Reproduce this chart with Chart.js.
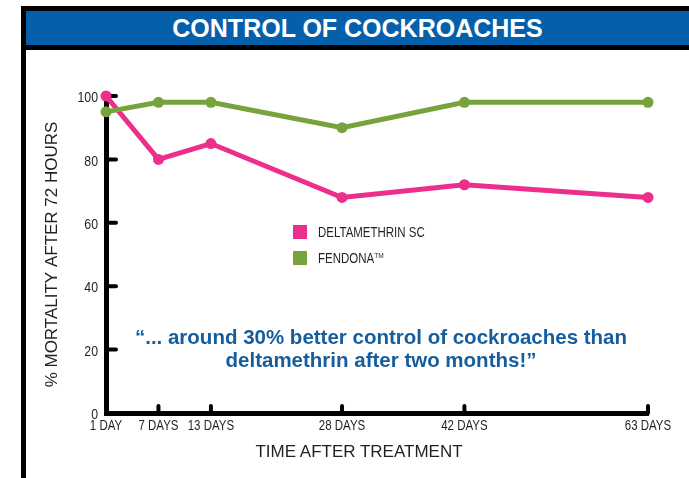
<!DOCTYPE html>
<html>
<head>
<meta charset="utf-8">
<script src="https://cdn.jsdelivr.net/npm/chart.js@4/dist/chart.umd.min.js"></script>
<style>
html, body { margin: 0; padding: 0; background: #fff; }
body { width: 689px; height: 478px; position: relative; overflow: hidden; font-family: "Liberation Sans", Arial, sans-serif; color: #231f20; }
#frame { position: absolute; left: 21px; top: 6px; right: -10px; bottom: -10px; border-left: 5px solid #000; border-top: 5px solid #000; }
#header { position: absolute; left: 26px; top: 11px; right: 0; height: 34px; background: #0560ac; border-bottom: 5px solid #000; color: #fff; font-weight: bold; font-size: 25px; line-height: 34px; text-align: center; }
#chart { position: absolute; left: 0; top: 0; }
.legend-item { position: absolute; left: 293px; height: 14px; white-space: nowrap; }
.legend-item span { position: absolute; left: 0; top: 0; width: 14px; height: 14px; }
.legend-item b { position: absolute; left: 25px; top: -1px; font-weight: normal; font-size: 14px; line-height: 16px; transform: scaleX(0.82); transform-origin: left center; }
.legend-item sup { font-size: 8px; vertical-align: 5px; line-height: 0; }
#note { position: absolute; left: 81px; width: 600px; top: 325px; text-align: center; color: #165d9e; font-weight: bold; font-size: 20.5px; line-height: 23px; }
#xtitle { position: absolute; left: 209px; width: 300px; top: 442px; text-align: center; font-size: 17px; line-height: 20px; }
</style>
</head>
<body>
<div id="frame"></div>
<div id="header">CONTROL OF COCKROACHES</div>
<canvas id="chart" width="689" height="478"></canvas>
<div id="legend"></div>
<div id="note">“... around 30% better control of cockroaches than<br>deltamethrin after two months!”</div>
<div id="xtitle">TIME AFTER TREATMENT</div>
<script>
// Data
const days = [1, 7, 13, 28, 42, 63];
const dayLabels = ['1 DAY', '7 DAYS', '13 DAYS', '28 DAYS', '42 DAYS', '63 DAYS'];
const deltamethrin = [100, 80, 85, 68, 72, 68];
const fendona = [95, 98, 98, 90, 98, 98];
const yTicks = [0, 20, 40, 60, 80, 100];
const seriesNames = ['DELTAMETHRIN SC', 'FENDONA™'];
const seriesColors = ['#ec2e8c', '#78a23c'];

// condensed text: the narrow font isn't installed, so squeeze Liberation Sans
function narrowText(ctx, text, x, y, size, align, baseline) {
    ctx.save();
    ctx.translate(x, y);
    ctx.scale(0.82, 1);
    ctx.font = size + 'px "Liberation Sans", Arial, sans-serif';
    ctx.fillStyle = '#231f20';
    ctx.textAlign = align;
    ctx.textBaseline = baseline;
    ctx.fillText(text, 0, 0);
    ctx.restore();
}

// inward tick marks and tick labels on both axes
const axisMarks = {
    id: 'axisMarks',
    beforeDatasetsDraw(chart) {
        const { ctx, scales: { x, y } } = chart;
        ctx.save();
        ctx.strokeStyle = '#000';
        ctx.lineWidth = 4;
        ctx.lineCap = 'round';
        yTicks.forEach(v => {
            if (v === 0) return;
            const py = y.getPixelForValue(v);
            ctx.beginPath();
            ctx.moveTo(x.left, py);
            ctx.lineTo(x.left + 10, py);
            ctx.stroke();
        });
        days.slice(1).forEach(d => {
            const px = x.getPixelForValue(d);
            ctx.beginPath();
            ctx.moveTo(px, y.bottom);
            ctx.lineTo(px, y.bottom - 7);
            ctx.stroke();
        });
        ctx.restore();

        yTicks.forEach(v => {
            narrowText(ctx, String(v), x.left - 8, y.getPixelForValue(v) + 2, 15, 'right', 'middle');
        });
        days.forEach((d, i) => {
            narrowText(ctx, dayLabels[i], x.getPixelForValue(d), y.bottom + 6, 14, 'center', 'top');
        });
    }
};

function series(values, i) {
    return {
        label: seriesNames[i],
        data: days.map((d, k) => ({ x: d, y: values[k] })),
        borderColor: seriesColors[i],
        backgroundColor: seriesColors[i],
        borderWidth: 5,
        pointRadius: 5.5,
        pointBorderWidth: 0,
        pointHoverRadius: 5.5,
        tension: 0,
        clip: false
    };
}

const ctx = document.getElementById('chart').getContext('2d');
const chart = new Chart(ctx, {
    type: 'line',
    data: { datasets: [series(fendona, 1), series(deltamethrin, 0)] },
    options: {
        responsive: false,
        animation: false,
        layout: { padding: { left: 0, right: 41, top: 96, bottom: 0 } },
        plugins: { legend: { display: false }, tooltip: { enabled: false } },
        scales: {
            x: {
                type: 'linear',
                min: 1,
                max: 63,
                afterBuildTicks: s => { s.ticks = days.map(v => ({ value: v })); },
                afterFit: s => { s.height = 65; },
                grid: { display: false, drawTicks: false },
                border: { color: '#000', width: 5 },
                ticks: { display: false }
            },
            y: {
                min: 0,
                max: 100,
                afterBuildTicks: s => { s.ticks = yTicks.map(v => ({ value: v })); },
                afterFit: s => { s.width = 106; },
                grid: { display: false, drawTicks: false },
                border: { color: '#000', width: 5 },
                ticks: { display: false },
                title: {
                    display: true,
                    text: '% MORTALITY AFTER 72 HOURS',
                    color: '#231f20',
                    font: { family: '"Liberation Sans", Arial, sans-serif', size: 17 },
                    padding: { top: 42, bottom: 0 }
                }
            }
        }
    },
    plugins: [axisMarks]
});

// legend
const legend = document.getElementById('legend');
seriesNames.forEach((name, i) => {
    const item = document.createElement('div');
    item.className = 'legend-item';
    item.style.top = (225 + i * 26) + 'px';
    item.innerHTML = '<span style="background:' + seriesColors[i] + '"></span><b>' +
        name.replace('™', '<sup>TM</sup>') + '</b>';
    legend.appendChild(item);
});
</script>
</body>
</html>
